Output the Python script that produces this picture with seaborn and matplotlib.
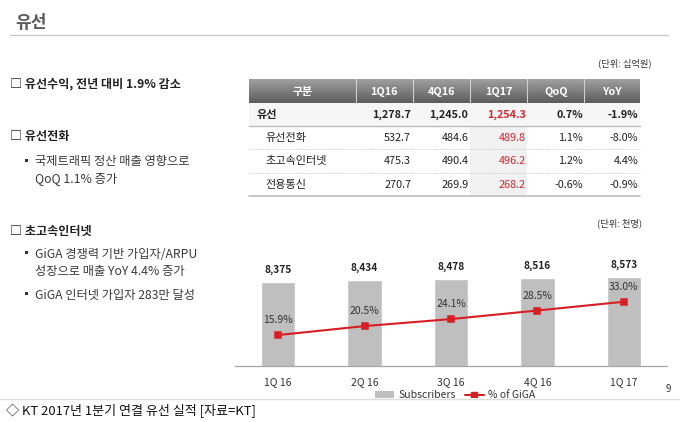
import matplotlib
matplotlib.use("Agg")
import matplotlib.pyplot as plt
from matplotlib.patches import Rectangle, Patch
from matplotlib.lines import Line2D
import numpy as np
import pandas as pd
import seaborn as sns

# ---------------- data ----------------
quarters = ["1Q 16", "2Q 16", "3Q 16", "4Q 16", "1Q 17"]
subscribers = [8375, 8434, 8478, 8516, 8573]
giga_pct = [15.9, 20.5, 24.1, 28.5, 33.0]

table_header = ["구분", "1Q16", "4Q16", "1Q17", "QoQ", "YoY"]
row_names = ["유선", "유선전화", "초고속인터넷", "전용통신"]
col_1q16 = ["1,278.7", "532.7", "475.3", "270.7"]
col_4q16 = ["1,245.0", "484.6", "490.4", "269.9"]
col_1q17 = ["1,254.3", "489.8", "496.2", "268.2"]
col_qoq = ["0.7%", "1.1%", "1.2%", "-0.6%"]
col_yoy = ["-1.9%", "-8.0%", "4.4%", "-0.9%"]

title = "유선"
unit_table = "(단위: 십억원)"
unit_chart = "(단위: 천명)"
bullets = [
    ("h", "□ 유선수익, 전년 대비 1.9% 감소", 83.5),
    ("h", "□ 유선전화", 136.5),
    ("b", "국제트래픽 정산 매출 영향으로", 161.5),
    ("c", "QoQ 1.1% 증가", 178.5),
    ("h", "□ 초고속인터넷", 231.5),
    ("b", "GiGA 경쟁력 기반 가입자/ARPU", 254.0),
    ("c", "성장으로 매출 YoY 4.4% 증가", 271.5),
    ("b", "GiGA 인터넷 가입자 283만 달성", 295.0),
]
caption = "◇ KT 2017년 1분기 연결 유선 실적 [자료=KT]"
legend_labels = ["Subscribers", "% of GiGA"]
page_no = "9"

# ---------------- style ----------------
sns.set_style("white")
FAM = ["Noto Sans CJK KR", "DejaVu Sans"]
plt.rcParams["font.family"] = FAM

W, H = 680, 422
fig = plt.figure(figsize=(W / 100, H / 100), dpi=100)
fig.patch.set_facecolor("white")

# background axes in pixel coordinates
bg = fig.add_axes([0, 0, 1, 1])
bg.set_xlim(0, W)
bg.set_ylim(H, 0)
bg.axis("off")

# title + underline
bg.text(15, 23, title, fontsize=12.3, fontweight="bold", color="#5a5a5a", va="center", ha="left")
bg.plot([10, 668], [35, 35], color="#c8c8c8", lw=0.9)

# left bullet texts
for kind, txt, y in bullets:
    if kind == "h":
        bg.text(10, y, txt, fontsize=8.7, fontweight="bold", color="#222222", va="center", ha="left")
    elif kind == "b":
        bg.text(21, y, "▪", fontsize=8, color="#333333", va="center", ha="left")
        bg.text(35, y, txt, fontsize=8.8, color="#3a3a3a", va="center", ha="left")
    else:
        bg.text(35, y, txt, fontsize=8.8, color="#3a3a3a", va="center", ha="left")

# ---------------- table ----------------
xe = [249.3, 355.7, 412.7, 470.0, 527.3, 584.3, 640.0]
ye = [79.3, 103.3, 126.0, 149.3, 172.7, 196.0]

bg.text(652, 63.5, unit_table, fontsize=6.7, color="#333333", ha="right", va="center")

grad = np.linspace(0, 1, 64).reshape(-1, 1)
bg.imshow(grad, cmap=matplotlib.colors.LinearSegmentedColormap.from_list("g", ["#a0a0a0", "#5c5c5c"]),
          extent=(xe[0], xe[-1], ye[1], ye[0]), aspect="auto", zorder=1, interpolation="bilinear")
bg.set_xlim(0, W)
bg.set_ylim(H, 0)
for x in xe[1:-1]:
    bg.plot([x, x], [ye[0], ye[1]], color="#d0d0d0", lw=0.8, zorder=2)
for j, h in enumerate(table_header):
    bg.text((xe[j] + xe[j + 1]) / 2, (ye[0] + ye[1]) / 2 + 0.5, h, fontsize=7.8, fontweight="bold",
            color="white", ha="center", va="center", zorder=3)

# first data row background and 1Q17 highlight
bg.add_patch(Rectangle((xe[0], ye[1]), xe[-1] - xe[0], ye[2] - ye[1], facecolor="#f6f6f6", edgecolor="none", zorder=1))
bg.add_patch(Rectangle((xe[3], ye[2]), xe[4] - xe[3], ye[-1] - ye[2], facecolor="#f1f1f1", edgecolor="none", zorder=1))

bg.plot([xe[0], xe[-1]], [ye[2], ye[2]], color="#bdbdbd", lw=1.0, zorder=2)
for y in ye[3:5]:
    bg.plot([xe[0], xe[-1]], [y, y], color="#cccccc", lw=0.7, ls=(0, (1, 1)), zorder=2)
bg.plot([xe[0], xe[-1]], [ye[-1], ye[-1]], color="#bdbdbd", lw=1.2, zorder=2)

cols = [col_1q16, col_4q16, col_1q17, col_qoq, col_yoy]
for i, name in enumerate(row_names):
    yc = (ye[i + 1] + ye[i + 2]) / 2 + 0.3
    bold = "bold" if i == 0 else "normal"
    xname = 257 if i == 0 else 265
    bg.text(xname, yc, name, fontsize=8, fontweight=bold, color="#222222", ha="left", va="center", zorder=3)
    for j, col in enumerate(cols):
        color = "#d5262e" if j == 2 else "#222222"
        bg.text(xe[j + 2] - 1.5, yc, col[i], fontsize=7.8, fontweight=bold, color=color,
                ha="right", va="center", zorder=3)

# ---------------- chart ----------------
bg.text(642, 223.5, unit_chart, fontsize=6.7, color="#333333", ha="right", va="center")

ax_left, ax_right, ax_top, ax_bot = 235, 667, 250, 366
ax = fig.add_axes([ax_left / W, 1 - ax_bot / H, (ax_right - ax_left) / W, (ax_bot - ax_top) / H])
ax.set_facecolor("none")
df = pd.DataFrame({"quarter": quarters, "subs": subscribers, "giga": giga_pct})

sns.barplot(data=df, x="quarter", y="subs", color="#bfbfbf", width=0.4, saturation=1, ax=ax, zorder=2)
ax.set_ylim(5000, 5000 + (ax_bot - ax_top) * 40)
ax.set_xlim(-0.5, 4.5)
for i, v in enumerate(subscribers):
    ax.annotate(f"{v:,}", (i, v), xytext=(0, 8.8), textcoords="offset points", ha="center", va="center",
                fontsize=7.3, fontweight="bold", color="#222222", family=FAM)

ax2 = ax.twinx()
sns.pointplot(data=df, x="quarter", y="giga", ax=ax2, color="#d81e25", markers="s", linestyles="-",
              errorbar=None, markersize=5, linewidth=1.5, zorder=4)
ax2.set_ylim(0, (ax_bot - ax_top) / 1.947)
ax2.set_xlim(-0.5, 4.5)
for i, v in enumerate(giga_pct):
    ax2.annotate(f"{v:.1f}%", (i, v), xytext=(0, 10.8), textcoords="offset points", ha="center", va="center",
                 fontsize=7.5, color="#333333", family=FAM)

for a in (ax, ax2):
    a.set_xlabel("")
    a.set_ylabel("")
    a.set_yticks([])
    for s in ("top", "left", "right", "bottom"):
        a.spines[s].set_visible(False)
ax.spines["bottom"].set_visible(True)
ax.spines["bottom"].set_color("#a6a6a6")
ax.spines["bottom"].set_linewidth(0.9)

ax.set_xticks(range(len(quarters)))
ax.set_xticklabels(quarters, fontsize=7.5, color="#333333")
ax.tick_params(axis="x", which="major", length=0, pad=8)
ax.set_xticks(np.arange(-0.5, len(quarters), 1.0), minor=True)
ax.tick_params(axis="x", which="minor", length=4, width=0.8, color="#a6a6a6", direction="out")
ax2.tick_params(axis="x", which="both", length=0, labelbottom=False, labeltop=False)

bg.text(668, 388.5, page_no, fontsize=7, color="#333333", ha="center", va="center")

handles = [Patch(facecolor="#bfbfbf", edgecolor="none"),
           Line2D([], [], color="#d81e25", lw=1.5, marker="s", markersize=4.5)]
bg.legend(handles, legend_labels, loc="center", bbox_to_anchor=(455 / W, 1 - 395 / H),
          bbox_transform=fig.transFigure, ncol=2, frameon=False, fontsize=7.5,
          handlelength=1.8, handleheight=0.6, handletextpad=0.4, columnspacing=0.9,
          labelcolor="#333333")

# bottom area: separator line and caption
bg.add_patch(Rectangle((0, 398), W, H - 398, facecolor="white", edgecolor="none", zorder=10))
bg.plot([0, W], [398.5, 398.5], color="#dddddd", lw=1.0, zorder=11)
bg.text(6, 410.5, caption, fontsize=9.4, color="#111111", ha="left", va="center", zorder=12)

fig.savefig("out.png", dpi=100, facecolor="white")
